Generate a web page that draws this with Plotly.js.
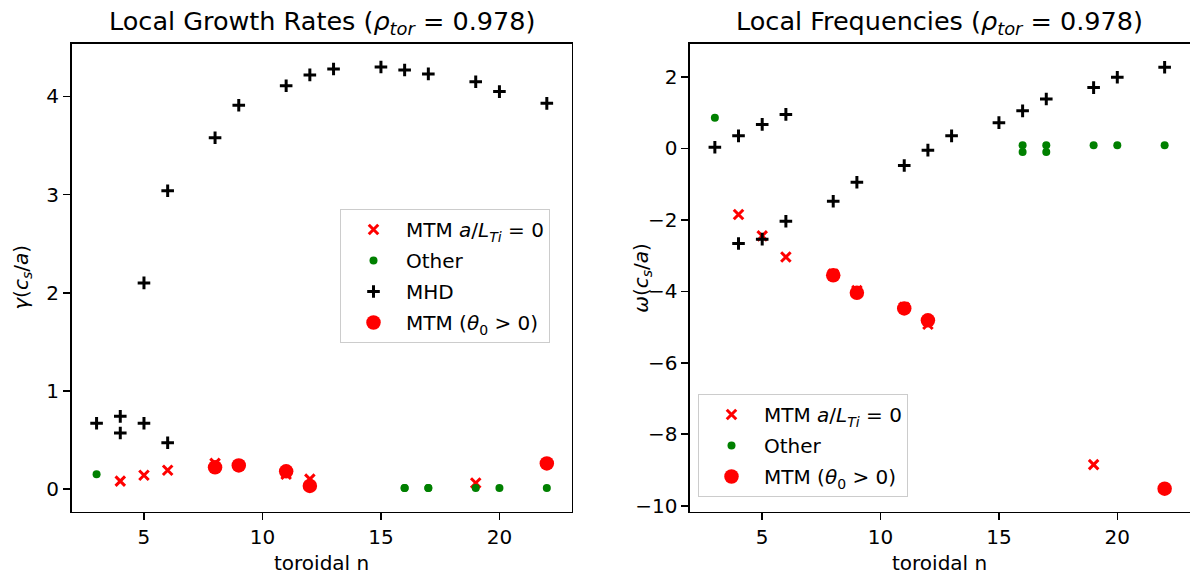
<!DOCTYPE html>
<html>
<head>
<meta charset="utf-8">
<script src="https://cdn.plot.ly/plotly-3.0.1.min.js"></script>
<style>html,body{margin:0;padding:0;background:#fff;}#plot{width:1190px;height:577px;}</style>
</head>
<body>
<div id="plot"></div>
<script>
// ---- data ----
const mtmX_n = [4, 5, 6, 8, 9, 11, 12, 19];
const mtmX_gamma = [0.08, 0.14, 0.19, 0.26, 0.24, 0.15, 0.10, 0.06];
const mtmX_omega = [-1.85, -2.45, -3.04, -3.52, -3.98, -4.45, -4.92, -8.85];

const other_n = [3, 16, 16, 17, 17, 19, 20, 22];
const other_gamma = [0.15, 0.01, 0.01, 0.01, 0.01, 0.01, 0.01, 0.01];
const other_omega = [0.86, 0.09, -0.10, 0.09, -0.10, 0.09, 0.09, 0.09];

const mhd_n = [3, 4, 4, 5, 5, 6, 6, 8, 9, 11, 12, 13, 15, 16, 17, 19, 20, 22];
const mhd_gamma = [0.67, 0.74, 0.57, 0.67, 2.10, 0.47, 3.04, 3.58, 3.91, 4.11, 4.22, 4.28, 4.30, 4.27, 4.23, 4.15, 4.05, 3.93];
const mhd_omega = [0.03, 0.35, -2.66, 0.67, -2.54, 0.95, -2.04, -1.48, -0.95, -0.48, -0.05, 0.35, 0.72, 1.05, 1.38, 1.70, 1.99, 2.27];

const mtmC_n = [8, 9, 11, 12, 22];
const mtmC_gamma = [0.22, 0.24, 0.18, 0.03, 0.26];
const mtmC_omega = [-3.55, -4.04, -4.48, -4.81, -9.52];

const xTicks = [5, 10, 15, 20];
const yTicksLeft = [0, 1, 2, 3, 4];
const yTicksRight = [-10, -8, -6, -4, -2, 0, 2];

const names = ["MTM <i>a</i>/<i>L</i><sub><i>Ti</i></sub> = 0", "Other", "MHD", "MTM (<i>θ</i><sub>0</sub> &gt; 0)"];
const titleLeft = "Local Growth Rates (<i>ρ</i><sub><i>tor</i></sub> = 0.978)";
const titleRight = "Local Frequencies (<i>ρ</i><sub><i>tor</i></sub> = 0.978)";
const xLabel = "toroidal n";
const yLabelLeft = "<i>γ</i>(<i>c</i><sub><i>s</i></sub>/<i>a</i>)";
const yLabelRight = "<i>ω</i>(<i>c</i><sub><i>s</i></sub>/<i>a</i>)";

// ---- styles ----
const W = 1190, H = 577;
const FONT = "DejaVu Sans, Liberation Sans, sans-serif";
const styX = {symbol: 'x-thin-open', size: 9.5, color: 'red', line: {color: 'red', width: 3}};
const styO = {symbol: 'circle', size: 8, color: 'green', line: {width: 0}};
const styP = {symbol: 'cross-thin-open', size: 9, color: 'black', line: {color: 'black', width: 3}};
const styC = {symbol: 'circle', size: 14.5, color: 'red', line: {width: 0}};

function tr(x, y, name, marker, xa, ya, leg, show, grp) {
  return {x: x, y: y, name: name, type: 'scatter', mode: 'markers', marker: marker,
          xaxis: xa, yaxis: ya, legend: leg, showlegend: show, legendgroup: grp, hoverinfo: 'skip'};
}

const data = [
  tr(mtmX_n, mtmX_gamma, names[0], styX, 'x', 'y', 'legend', true, 'a1'),
  tr(other_n, other_gamma, names[1], styO, 'x', 'y', 'legend', true, 'a2'),
  tr(mhd_n, mhd_gamma, names[2], styP, 'x', 'y', 'legend', true, 'a3'),
  tr(mtmC_n, mtmC_gamma, names[3], styC, 'x', 'y', 'legend', true, 'a4'),
  tr(mtmX_n, mtmX_omega, names[0], styX, 'x2', 'y2', 'legend2', true, 'b1'),
  tr(other_n, other_omega, names[1], styO, 'x2', 'y2', 'legend2', true, 'b2'),
  tr(mhd_n, mhd_omega, names[2], styP, 'x2', 'y2', 'legend2', false, 'b3'),
  tr(mtmC_n, mtmC_omega, names[3], styC, 'x2', 'y2', 'legend2', true, 'b4')
];

const L1 = 71.7, R1 = 571.7, L2 = 690, R2 = 1189.5, T = 44, B = 511.5;
function ax(extra) {
  return Object.assign({
    showgrid: false, zeroline: false, showline: true, mirror: true,
    linecolor: 'black', linewidth: 1.6, ticks: 'outside', ticklen: 7, tickwidth: 1.6,
    tickcolor: 'black', tickfont: {family: FONT, size: 20, color: 'black'},
    tickmode: 'array', fixedrange: true
  }, extra);
}

const legStyle = {
  font: {family: FONT, size: 20, color: 'black'}, bgcolor: 'rgba(255,255,255,0.8)',
  bordercolor: '#cccccc', borderwidth: 1, xanchor: 'left', yanchor: 'top',
  tracegroupgap: 2, itemwidth: 55
};

const layout = {
  width: W, height: H, margin: {l: 0, r: 0, t: 0, b: 0},
  paper_bgcolor: 'white', plot_bgcolor: 'white',
  font: {family: FONT, color: 'black'},
  xaxis: ax({domain: [L1 / W, R1 / W], range: [1.95, 23.05], tickvals: xTicks, anchor: 'y'}),
  yaxis: ax({domain: [1 - B / H, 1 - T / H], range: [-0.23, 4.535], tickvals: yTicksLeft, anchor: 'x'}),
  xaxis2: ax({domain: [L2 / W, R2 / W], range: [1.95, 23.05], tickvals: xTicks, anchor: 'y2'}),
  yaxis2: ax({domain: [1 - B / H, 1 - T / H], range: [-10.16, 2.92], tickvals: yTicksRight, anchor: 'x2'}),
  legend: Object.assign({}, legStyle, {x: 340 / W, y: 1 - 209 / H}),
  legend2: Object.assign({}, legStyle, {x: 698 / W, y: 1 - 394 / H}),
  showlegend: true,
  annotations: [
    {text: titleLeft, x: (L1 + R1) / 2 / W, y: 1 - 22 / H, xref: 'paper', yref: 'paper', xanchor: 'center', yanchor: 'middle', showarrow: false, font: {family: FONT, size: 25.5, color: 'black'}},
    {text: titleRight, x: (L2 + R2) / 2 / W, y: 1 - 22 / H, xref: 'paper', yref: 'paper', xanchor: 'center', yanchor: 'middle', showarrow: false, font: {family: FONT, size: 25.5, color: 'black'}},
    {text: xLabel, x: (L1 + R1) / 2 / W, y: 1 - 563 / H, xref: 'paper', yref: 'paper', xanchor: 'center', yanchor: 'middle', showarrow: false, font: {family: FONT, size: 20, color: 'black'}},
    {text: xLabel, x: (L2 + R2) / 2 / W, y: 1 - 563 / H, xref: 'paper', yref: 'paper', xanchor: 'center', yanchor: 'middle', showarrow: false, font: {family: FONT, size: 20, color: 'black'}},
    {text: yLabelLeft, x: 22 / W, y: 1 - (T + B) / 2 / H, xref: 'paper', yref: 'paper', xanchor: 'center', yanchor: 'middle', textangle: -90, showarrow: false, font: {family: FONT, size: 20, color: 'black'}},
    {text: yLabelRight, x: 642 / W, y: 1 - (T + B) / 2 / H, xref: 'paper', yref: 'paper', xanchor: 'center', yanchor: 'middle', textangle: -90, showarrow: false, font: {family: FONT, size: 20, color: 'black'}}
  ]
};

Plotly.newPlot('plot', data, layout, {staticPlot: true, displayModeBar: false});
</script>
</body>
</html>
